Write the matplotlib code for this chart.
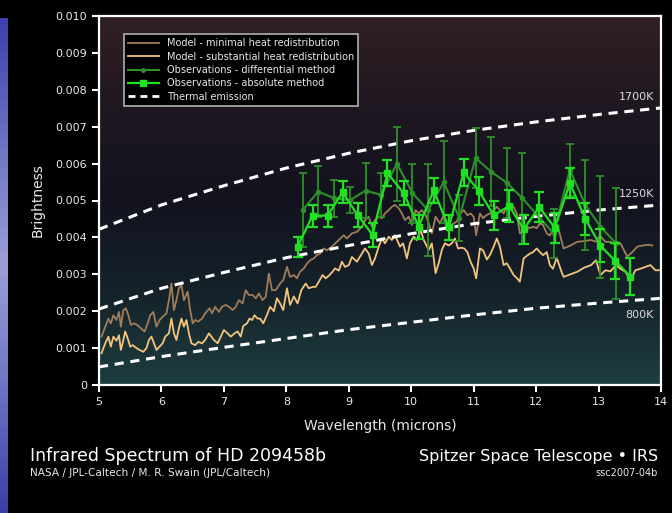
#!/usr/bin/env python3
"""Infrared spectrum of HD 209458b (Spitzer IRS) -> out.png."""

import matplotlib

matplotlib.use("Agg")
import matplotlib.pyplot as plt  # noqa: E402
import numpy as np  # noqa: E402
from matplotlib.colors import LinearSegmentedColormap  # noqa: E402
from matplotlib.lines import Line2D  # noqa: E402

# --- model: minimal heat redistribution (brown)
min_wl = [5.04, 5.10, 5.15, 5.19, 5.23, 5.28, 5.32, 5.35, 5.39, 5.43, 5.47, 5.51, 5.56, 5.61,
          5.67, 5.73, 5.78, 5.82, 5.87, 5.92, 5.97, 6.02, 6.08, 6.12, 6.16, 6.20, 6.24, 6.28,
          6.32, 6.36, 6.42, 6.46, 6.50, 6.54, 6.59, 6.65, 6.70, 6.77, 6.81, 6.86, 6.92, 6.97,
          7.03, 7.08, 7.14, 7.19, 7.24, 7.30, 7.35, 7.40, 7.46, 7.51, 7.56, 7.62, 7.67, 7.72,
          7.77, 7.83, 7.90, 7.95, 8.01, 8.06, 8.12, 8.17, 8.22, 8.28, 8.33, 8.38, 8.44, 8.49,
          8.54, 8.60, 8.65, 8.73, 8.84, 8.92, 8.97, 9.05, 9.13, 9.21, 9.26, 9.32, 9.37, 9.42,
          9.48, 9.53, 9.58, 9.64, 9.69, 9.74, 9.80, 9.85, 9.90, 9.96, 10.01, 10.07, 10.12,
          10.17, 10.23, 10.28, 10.33, 10.39, 10.46, 10.52, 10.57, 10.62, 10.68, 10.73, 10.79,
          10.84, 10.90, 10.95, 11.00, 11.04, 11.10, 11.15, 11.20, 11.26, 11.32, 11.37, 11.42,
          11.48, 11.53, 11.58, 11.64, 11.69, 11.74, 11.80, 11.85, 11.90, 11.95, 12.01, 12.06,
          12.11, 12.17, 12.22, 12.28, 12.34, 12.44, 12.55, 12.66, 12.77, 12.88, 12.96, 13.02,
          13.11, 13.19, 13.27, 13.35, 13.46, 13.54, 13.62, 13.70, 13.80, 13.86]
min_val = [0.00131, 0.00158, 0.00180, 0.00167, 0.00189, 0.00176, 0.00198, 0.00158, 0.00203,
           0.00208, 0.00189, 0.00163, 0.00167, 0.00163, 0.00154, 0.00145, 0.00167, 0.00189,
           0.00198, 0.00158, 0.00176, 0.00185, 0.00194, 0.00230, 0.00275, 0.00203, 0.00230,
           0.00262, 0.00271, 0.00230, 0.00253, 0.00203, 0.00167, 0.00176, 0.00172, 0.00180,
           0.00194, 0.00208, 0.00194, 0.00212, 0.00198, 0.00212, 0.00217, 0.00212, 0.00203,
           0.00212, 0.00230, 0.00221, 0.00257, 0.00244, 0.00244, 0.00235, 0.00248, 0.00230,
           0.00239, 0.00302, 0.00257, 0.00257, 0.00275, 0.00284, 0.00320, 0.00293, 0.00298,
           0.00289, 0.00307, 0.00316, 0.00329, 0.00338, 0.00343, 0.00352, 0.00356, 0.00370,
           0.00365, 0.00375, 0.00393, 0.00406, 0.00397, 0.00411, 0.00415, 0.00429, 0.00447,
           0.00456, 0.00429, 0.00447, 0.00456, 0.00452, 0.00465, 0.00474, 0.00483, 0.00488,
           0.00479, 0.00465, 0.00447, 0.00456, 0.00434, 0.00474, 0.00465, 0.00474, 0.00461,
           0.00438, 0.00411, 0.00456, 0.00438, 0.00460, 0.00420, 0.00430, 0.00438, 0.00443,
           0.00465, 0.00474, 0.00460, 0.00465, 0.00456, 0.00406, 0.00465, 0.00452, 0.00460,
           0.00465, 0.00474, 0.00483, 0.00474, 0.00465, 0.00483, 0.00488, 0.00483, 0.00465,
           0.00411, 0.00415, 0.00429, 0.00425, 0.00429, 0.00425, 0.00438, 0.00434, 0.00411,
           0.00405, 0.00424, 0.00434, 0.00370, 0.00378, 0.00388, 0.00390, 0.00393, 0.00388,
           0.00405, 0.00388, 0.00388, 0.00380, 0.00384, 0.00348, 0.00360, 0.00375, 0.00378,
           0.00380, 0.00378]

# --- model: substantial heat redistribution (tan)
sub_wl = [5.04, 5.10, 5.15, 5.19, 5.23, 5.28, 5.32, 5.35, 5.39, 5.42, 5.46, 5.50, 5.54, 5.60,
          5.65, 5.71, 5.76, 5.80, 5.84, 5.88, 5.92, 5.97, 6.02, 6.06, 6.12, 6.16, 6.20, 6.24,
          6.28, 6.32, 6.36, 6.40, 6.44, 6.48, 6.54, 6.59, 6.65, 6.70, 6.76, 6.80, 6.84, 6.90,
          6.95, 7.00, 7.06, 7.11, 7.17, 7.22, 7.27, 7.31, 7.37, 7.41, 7.45, 7.49, 7.54, 7.58,
          7.63, 7.69, 7.74, 7.80, 7.85, 7.90, 7.95, 8.01, 8.06, 8.12, 8.18, 8.24, 8.31, 8.36,
          8.42, 8.47, 8.52, 8.58, 8.63, 8.68, 8.73, 8.78, 8.84, 8.89, 8.94, 9.00, 9.05, 9.13,
          9.21, 9.26, 9.32, 9.37, 9.42, 9.48, 9.53, 9.58, 9.64, 9.69, 9.74, 9.82, 9.87, 9.93,
          9.98, 10.04, 10.09, 10.15, 10.20, 10.28, 10.33, 10.39, 10.44, 10.49, 10.54, 10.60,
          10.65, 10.70, 10.75, 10.80, 10.85, 10.90, 10.95, 11.00, 11.04, 11.10, 11.15, 11.21,
          11.26, 11.32, 11.37, 11.42, 11.48, 11.53, 11.58, 11.64, 11.69, 11.74, 11.80, 11.85,
          11.90, 11.95, 12.01, 12.06, 12.11, 12.17, 12.22, 12.27, 12.33, 12.40, 12.44, 12.55,
          12.66, 12.77, 12.88, 12.96, 13.03, 13.11, 13.19, 13.28, 13.35, 13.43, 13.51, 13.59,
          13.67, 13.75, 13.83, 13.91, 14.00]
sub_val = [0.00086, 0.00113, 0.00131, 0.00104, 0.00131, 0.00120, 0.00135, 0.00095, 0.00122,
           0.00145, 0.00126, 0.00104, 0.00108, 0.00100, 0.00095, 0.00090, 0.00100, 0.00122,
           0.00131, 0.00113, 0.00095, 0.00104, 0.00113, 0.00131, 0.00140, 0.00180, 0.00140,
           0.00122, 0.00154, 0.00180, 0.00158, 0.00176, 0.00140, 0.00113, 0.00108, 0.00117,
           0.00113, 0.00122, 0.00140, 0.00131, 0.00122, 0.00113, 0.00131, 0.00149, 0.00140,
           0.00131, 0.00140, 0.00145, 0.00131, 0.00160, 0.00167, 0.00180, 0.00176, 0.00189,
           0.00180, 0.00180, 0.00167, 0.00190, 0.00212, 0.00200, 0.00235, 0.00221, 0.00203,
           0.00262, 0.00217, 0.00240, 0.00221, 0.00257, 0.00275, 0.00262, 0.00266, 0.00266,
           0.00280, 0.00298, 0.00289, 0.00296, 0.00305, 0.00316, 0.00310, 0.00334, 0.00320,
           0.00325, 0.00347, 0.00334, 0.00356, 0.00370, 0.00356, 0.00325, 0.00343, 0.00375,
           0.00397, 0.00384, 0.00402, 0.00393, 0.00406, 0.00375, 0.00384, 0.00343, 0.00384,
           0.00402, 0.00393, 0.00420, 0.00393, 0.00366, 0.00384, 0.00303, 0.00330, 0.00366,
           0.00384, 0.00378, 0.00384, 0.00397, 0.00370, 0.00372, 0.00370, 0.00360, 0.00334,
           0.00316, 0.00289, 0.00370, 0.00365, 0.00340, 0.00352, 0.00375, 0.00397, 0.00375,
           0.00325, 0.00330, 0.00316, 0.00298, 0.00290, 0.00280, 0.00343, 0.00350, 0.00356,
           0.00360, 0.00370, 0.00360, 0.00352, 0.00360, 0.00325, 0.00315, 0.00345, 0.00310,
           0.00293, 0.00300, 0.00307, 0.00318, 0.00325, 0.00338, 0.00298, 0.00311, 0.00308,
           0.00325, 0.00315, 0.00307, 0.00284, 0.00311, 0.00315, 0.00320, 0.00325, 0.00311,
           0.00311]

# --- observations: differential method (dark green)
diff_wl = [8.26, 8.51, 8.77, 9.02, 9.27, 9.52, 9.77, 10.02, 10.27, 10.52, 10.77, 11.03,
           11.28, 11.53, 11.78, 12.28, 12.54, 12.79, 13.03, 13.28]
diff_val = [0.00474, 0.00524, 0.00506, 0.00501, 0.00527, 0.00515, 0.00600, 0.00520, 0.00474,
            0.00550, 0.00452, 0.00615, 0.00578, 0.00548, 0.00506, 0.00411, 0.00583, 0.00488,
            0.00429, 0.00384]
diff_err = [0.00100, 0.00070, 0.00050, 0.00035, 0.00075, 0.00060, 0.00100, 0.00080, 0.00124,
            0.00110, 0.00063, 0.00081, 0.00093, 0.00095, 0.00124, 0.00066, 0.00070, 0.00123,
            0.00138, 0.00150]

# --- observations: absolute method (bright green)
abs_wl = [8.18, 8.42, 8.66, 8.90, 9.14, 9.38, 9.62, 9.88, 10.12, 10.36, 10.60, 10.84, 11.08,
          11.32, 11.57, 11.80, 12.05, 12.30, 12.54, 12.79, 13.03, 13.27, 13.51]
abs_val = [0.00375, 0.00459, 0.00459, 0.00522, 0.00461, 0.00407, 0.00574, 0.00520, 0.00429,
           0.00528, 0.00427, 0.00576, 0.00527, 0.00460, 0.00485, 0.00422, 0.00482, 0.00426,
           0.00547, 0.00450, 0.00377, 0.00336, 0.00294]
abs_err = [0.00027, 0.00030, 0.00030, 0.00030, 0.00032, 0.00032, 0.00035, 0.00032, 0.00032,
           0.00034, 0.00034, 0.00036, 0.00038, 0.00040, 0.00043, 0.00040, 0.00040, 0.00041,
           0.00041, 0.00043, 0.00045, 0.00050, 0.00050]

# --- thermal emission curves
therm_wl = [5, 6, 7, 8, 9, 10, 11, 12, 13, 14]
t1700 = [0.00422, 0.00488, 0.00540, 0.00588, 0.00628, 0.00662, 0.00690, 0.00713, 0.00733, 0.00751]
t1250 = [0.00206, 0.00262, 0.00305, 0.00345, 0.00378, 0.00410, 0.00437, 0.00457, 0.00474, 0.00488]
t800 = [0.00049, 0.00077, 0.00102, 0.00126, 0.00150, 0.00170, 0.00190, 0.00208, 0.00222, 0.00235]
therm_labels = ["1700K", "1250K", "800K"]

C_MIN = "#a07c58"
C_SUB = "#f4c47c"
C_DIFF = "#2f8f2a"
C_ABS = "#22e022"
TXT = "#e8e8e8"

fig = plt.figure(figsize=(6.72, 5.13), dpi=100, facecolor="black")

# blue strip on the left edge
strip = fig.add_axes([0, 0, 8 / 672, 495 / 513])
strip.axis("off")
sc = LinearSegmentedColormap.from_list("strip", ["#3d3fae", "#6d72c4", "#9a9fd8", "#6d72c4", "#3b3da6"])
strip.imshow(np.linspace(0, 1, 256)[:, None], aspect="auto", cmap=sc)

ax = fig.add_axes([99 / 672, 1 - 385 / 513, 562 / 672, 369 / 513])
ax.set_facecolor("black")
bg = LinearSegmentedColormap.from_list("bg", ["#1e3e40", "#15222a", "#12131e", "#1f1721", "#311f24"])
ax.imshow(np.linspace(0, 1, 256)[:, None], aspect="auto", cmap=bg, origin="lower",
          extent=[5, 14, 0, 0.010], zorder=0)

ax.plot(min_wl, min_val, color=C_MIN, lw=1.3, zorder=2)
ax.plot(sub_wl, sub_val, color=C_SUB, lw=1.3, zorder=2)
for t in (t1700, t1250, t800):
    ax.plot(therm_wl, t, color="white", lw=2.2, ls=(0, (3, 2.2)), zorder=3)
ax.errorbar(diff_wl, diff_val, yerr=diff_err, color=C_DIFF, lw=1.5, marker="o", ms=3,
            capsize=3, capthick=1.3, elinewidth=1.3, zorder=4)
ax.errorbar(abs_wl, abs_val, yerr=abs_err, color=C_ABS, lw=1.6, marker="s", ms=5,
            capsize=3.5, capthick=1.6, elinewidth=1.6, zorder=5)

for lab, t in zip(therm_labels, (t1700, t1250, t800)):
    ax.annotate(lab, (14, t[-1]), xytext=(-5, 8 if lab != "800K" else -12),
                textcoords="offset points", ha="right", va="center",
                color="#dcdcdc", fontsize=8)

ax.set_xlim(5, 14)
ax.set_ylim(0, 0.010)
ax.set_xticks(range(5, 15))
ax.set_yticks(np.arange(0, 0.0105, 0.001))
ax.set_yticklabels(["0"] + [f"{v:.3f}" for v in np.arange(0.001, 0.0105, 0.001)])
for s in ax.spines.values():
    s.set_color("white")
    s.set_linewidth(1.6)
ax.tick_params(colors="white", labelcolor=TXT, labelsize=8, length=5, width=1.5, direction="out")
ax.set_xlabel("Wavelength (microns)", color=TXT, fontsize=10, labelpad=9)
ax.set_ylabel("Brightness", color=TXT, fontsize=10, labelpad=8)

handles = [
    Line2D([], [], color=C_MIN, lw=1.3),
    Line2D([], [], color=C_SUB, lw=1.3),
    Line2D([], [], color=C_DIFF, lw=1.5, marker="o", ms=2.5),
    Line2D([], [], color=C_ABS, lw=1.6, marker="s", ms=4.5),
    Line2D([], [], color="white", lw=2, ls=(0, (2.5, 1.8))),
]
labels = ["Model - minimal heat redistribution", "Model - substantial heat redistribution",
          "Observations - differential method", "Observations - absolute method",
          "Thermal emission"]
leg = ax.legend(handles, labels, loc="upper left", bbox_to_anchor=(0.035, 0.965), fontsize=7,
                frameon=True, fancybox=False, facecolor="black", edgecolor="#b0b0b0",
                framealpha=1, labelcolor=TXT, handlelength=3.2, borderpad=0.45,
                labelspacing=0.35, handletextpad=0.8)
leg.get_frame().set_linewidth(1.2)

fig.text(30 / 672, 1 - 456 / 513, "Infrared Spectrum of HD 209458b", color="white",
         fontsize=12.5, va="center", ha="left")
fig.text(30 / 672, 1 - 473 / 513, "NASA / JPL-Caltech / M. R. Swain (JPL/Caltech)",
         color=TXT, fontsize=7.6, va="center", ha="left")
fig.text(658 / 672, 1 - 456 / 513, "Spitzer Space Telescope • IRS", color="white",
         fontsize=11.5, va="center", ha="right")
fig.text(658 / 672, 1 - 473 / 513, "ssc2007-04b", color=TXT, fontsize=7,
         va="center", ha="right")

fig.savefig("out.png", dpi=100, facecolor="black")
